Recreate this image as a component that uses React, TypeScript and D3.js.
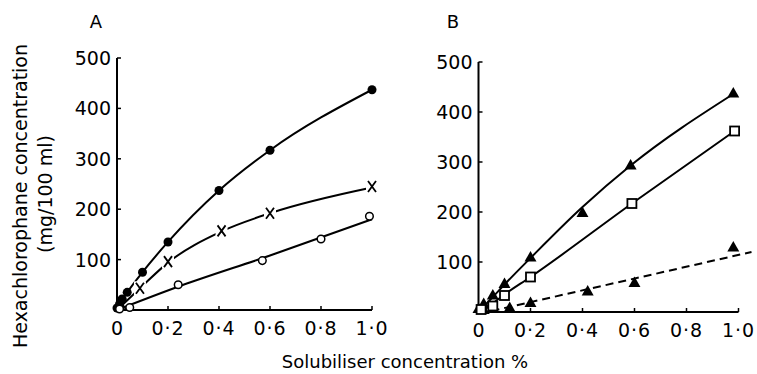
import { useEffect, useRef } from 'react';
import * as d3 from 'd3';

type Pt = [number, number];

// tick values shared by both panels
const xTicks = [0, 0.2, 0.4, 0.6, 0.8, 1.0];
const yTicks = [100, 200, 300, 400, 500];

// Panel A
const aFilledCircles: Pt[] = [[0, 4], [0.01, 12], [0.02, 22], [0.04, 35], [0.1, 75], [0.2, 135], [0.4, 237], [0.6, 317], [1.0, 437]];
const aFilledCurve: Pt[] = [[0, 0], [0.02, 20], [0.04, 35], [0.1, 75], [0.2, 135], [0.4, 237], [0.6, 317], [1.0, 437]];
const aCrosses: Pt[] = [[0.02, 12], [0.09, 43], [0.2, 96], [0.41, 157], [0.6, 192], [1.0, 245]];
const aCrossCurve: Pt[] = [[0, 0], [0.09, 43], [0.2, 94], [0.41, 156], [0.6, 192], [1.0, 243]];
const aOpenCircles: Pt[] = [[0.01, 2], [0.05, 5], [0.24, 50], [0.57, 98], [0.8, 141], [0.99, 186]];
const aOpenCurve: Pt[] = [[0, 0], [0.25, 48], [0.6, 108], [1.0, 180]];

// Panel B
const bUpperTriangles: Pt[] = [[0, 5], [0.02, 15], [0.055, 32], [0.1, 55], [0.2, 108], [0.4, 197], [0.585, 292], [0.98, 436]];
const bUpperCurve: Pt[] = [[0, 0], [0.055, 30], [0.1, 55], [0.2, 108], [0.4, 210], [0.585, 293], [0.98, 436]];
const bSquares: Pt[] = [[0.01, 5], [0.055, 12], [0.1, 33], [0.2, 70], [0.59, 217], [0.985, 362]];
const bSquareLine: Pt[] = [[0.02, 3], [0.1, 35], [0.2, 70], [0.59, 217], [0.985, 362]];
const bLowerTriangles: Pt[] = [[0.02, 3], [0.12, 7], [0.2, 17], [0.42, 40], [0.6, 57], [0.98, 128]];
const bLowerLine: Pt[] = [[0.05, 2], [1.05, 120]];

const FONT = '"DejaVu Sans", sans-serif';

export default function App() {
  const svgRef = useRef<SVGSVGElement>(null);

  useEffect(() => {
    if (!svgRef.current) return;
    const svg = d3.select(svgRef.current);
    svg.selectAll('*').remove();

    const panels = [
      { label: 'A', lx: 96, x: d3.scaleLinear().domain([0, 1]).range([117, 372]), y: d3.scaleLinear().domain([0, 500]).range([310, 58]) },
      { label: 'B', lx: 453, x: d3.scaleLinear().domain([0, 1]).range([478.5, 738.5]), y: d3.scaleLinear().domain([0, 500]).range([312, 62]) },
    ];

    const drawAxes = (p: typeof panels[0]) => {
      const g = svg.append('g');
      const x0 = p.x(0), y0 = p.y(0);
      g.append('line').attr('x1', x0).attr('x2', x0).attr('y1', y0).attr('y2', p.y(500))
        .attr('stroke', '#000').attr('stroke-width', 2);
      g.append('line').attr('x1', x0).attr('x2', p.x(1)).attr('y1', y0).attr('y2', y0)
        .attr('stroke', '#000').attr('stroke-width', 2);
      yTicks.forEach(t => {
        g.append('line').attr('x1', x0).attr('x2', x0 + 4).attr('y1', p.y(t)).attr('y2', p.y(t))
          .attr('stroke', '#000').attr('stroke-width', 1.5);
        g.append('text').attr('x', x0 - 6).attr('y', p.y(t) + 7)
          .attr('text-anchor', 'end').attr('font-family', FONT).attr('font-size', 19)
          .text(String(t));
      });
      xTicks.forEach(t => {
        g.append('line').attr('x1', p.x(t)).attr('x2', p.x(t)).attr('y1', y0).attr('y2', y0 - 4)
          .attr('stroke', '#000').attr('stroke-width', 1.5);
        g.append('text').attr('x', p.x(t)).attr('y', y0 + 25)
          .attr('text-anchor', 'middle').attr('font-family', FONT).attr('font-size', 19)
          .attr('letter-spacing', t === 0 ? 0 : 1)
          .text(t === 0 ? '0' : t.toFixed(1).replace('.', '·'));
      });
      g.append('text').attr('x', p.lx).attr('y', 28).attr('text-anchor', 'middle')
        .attr('font-family', FONT).attr('font-size', 18).text(p.label);
    };

    panels.forEach(drawAxes);

    const lineFor = (p: typeof panels[0], curve: d3.CurveFactory) =>
      d3.line<Pt>().x(d => p.x(d[0])).y(d => p.y(d[1])).curve(curve);

    const path = (p: typeof panels[0], data: Pt[], curve: d3.CurveFactory, dash?: string) =>
      svg.append('path').datum(data).attr('fill', 'none').attr('stroke', '#000')
        .attr('stroke-width', 2).attr('stroke-dasharray', dash ?? null)
        .attr('d', lineFor(p, curve));

    const [A, B] = panels;

    // Panel A curves
    path(A, aFilledCurve, d3.curveMonotoneX);
    path(A, aOpenCurve, d3.curveMonotoneX);
    path(A, aCrossCurve, d3.curveMonotoneX);

    // crosses with a white gap around each
    aCrosses.slice(1).forEach(d => {
      const cx = A.x(d[0]), cy = A.y(d[1]);
      svg.append('rect').attr('x', cx - 6).attr('y', cy - 7).attr('width', 12).attr('height', 14).attr('fill', '#fff');
    });
    aCrosses.forEach(d => {
      const cx = A.x(d[0]), cy = A.y(d[1]);
      svg.append('path').attr('d', `M${cx - 4},${cy - 5.5}L${cx + 4},${cy + 5.5}M${cx + 4},${cy - 5.5}L${cx - 4},${cy + 5.5}`)
        .attr('stroke', '#000').attr('stroke-width', 1.8).attr('fill', 'none');
    });

    svg.selectAll(null).data(aFilledCircles).enter().append('circle')
      .attr('cx', d => A.x(d[0])).attr('cy', d => A.y(d[1])).attr('r', 4.5).attr('fill', '#000');
    svg.selectAll(null).data(aOpenCircles).enter().append('circle')
      .attr('cx', d => A.x(d[0])).attr('cy', d => A.y(d[1])).attr('r', 3.8)
      .attr('fill', '#fff').attr('stroke', '#000').attr('stroke-width', 1.5);

    // Panel B curves
    path(B, bUpperCurve, d3.curveMonotoneX);
    path(B, bSquareLine, d3.curveMonotoneX);
    path(B, bLowerLine, d3.curveLinear, '8,5');

    const tri = d3.symbol().type(d3.symbolTriangle).size(62);
    [...bUpperTriangles, ...bLowerTriangles].forEach(d => {
      svg.append('path').attr('d', tri()!).attr('transform', `translate(${B.x(d[0])},${B.y(d[1])})`).attr('fill', '#000');
    });
    svg.selectAll(null).data(bSquares).enter().append('rect')
      .attr('x', d => B.x(d[0]) - 4.5).attr('y', d => B.y(d[1]) - 4.5).attr('width', 9).attr('height', 9)
      .attr('fill', '#fff').attr('stroke', '#000').attr('stroke-width', 1.8);

    // axis titles
    svg.append('text').attr('transform', 'translate(27,196) rotate(-90)').attr('text-anchor', 'middle')
      .attr('font-family', FONT).attr('font-size', 19).text('Hexachlorophane concentration');
    svg.append('text').attr('transform', 'translate(52,194) rotate(-90)').attr('text-anchor', 'middle')
      .attr('font-family', FONT).attr('font-size', 19).text('(mg/100 ml)');
    svg.append('text').attr('x', 405).attr('y', 368).attr('text-anchor', 'middle')
      .attr('font-family', FONT).attr('font-size', 18).text('Solubiliser concentration %');
  }, []);

  return (
    <svg ref={svgRef} width={757} height={374}
      style={{ position: 'absolute', left: 0, top: 0, background: '#fff' }} />
  );
}
